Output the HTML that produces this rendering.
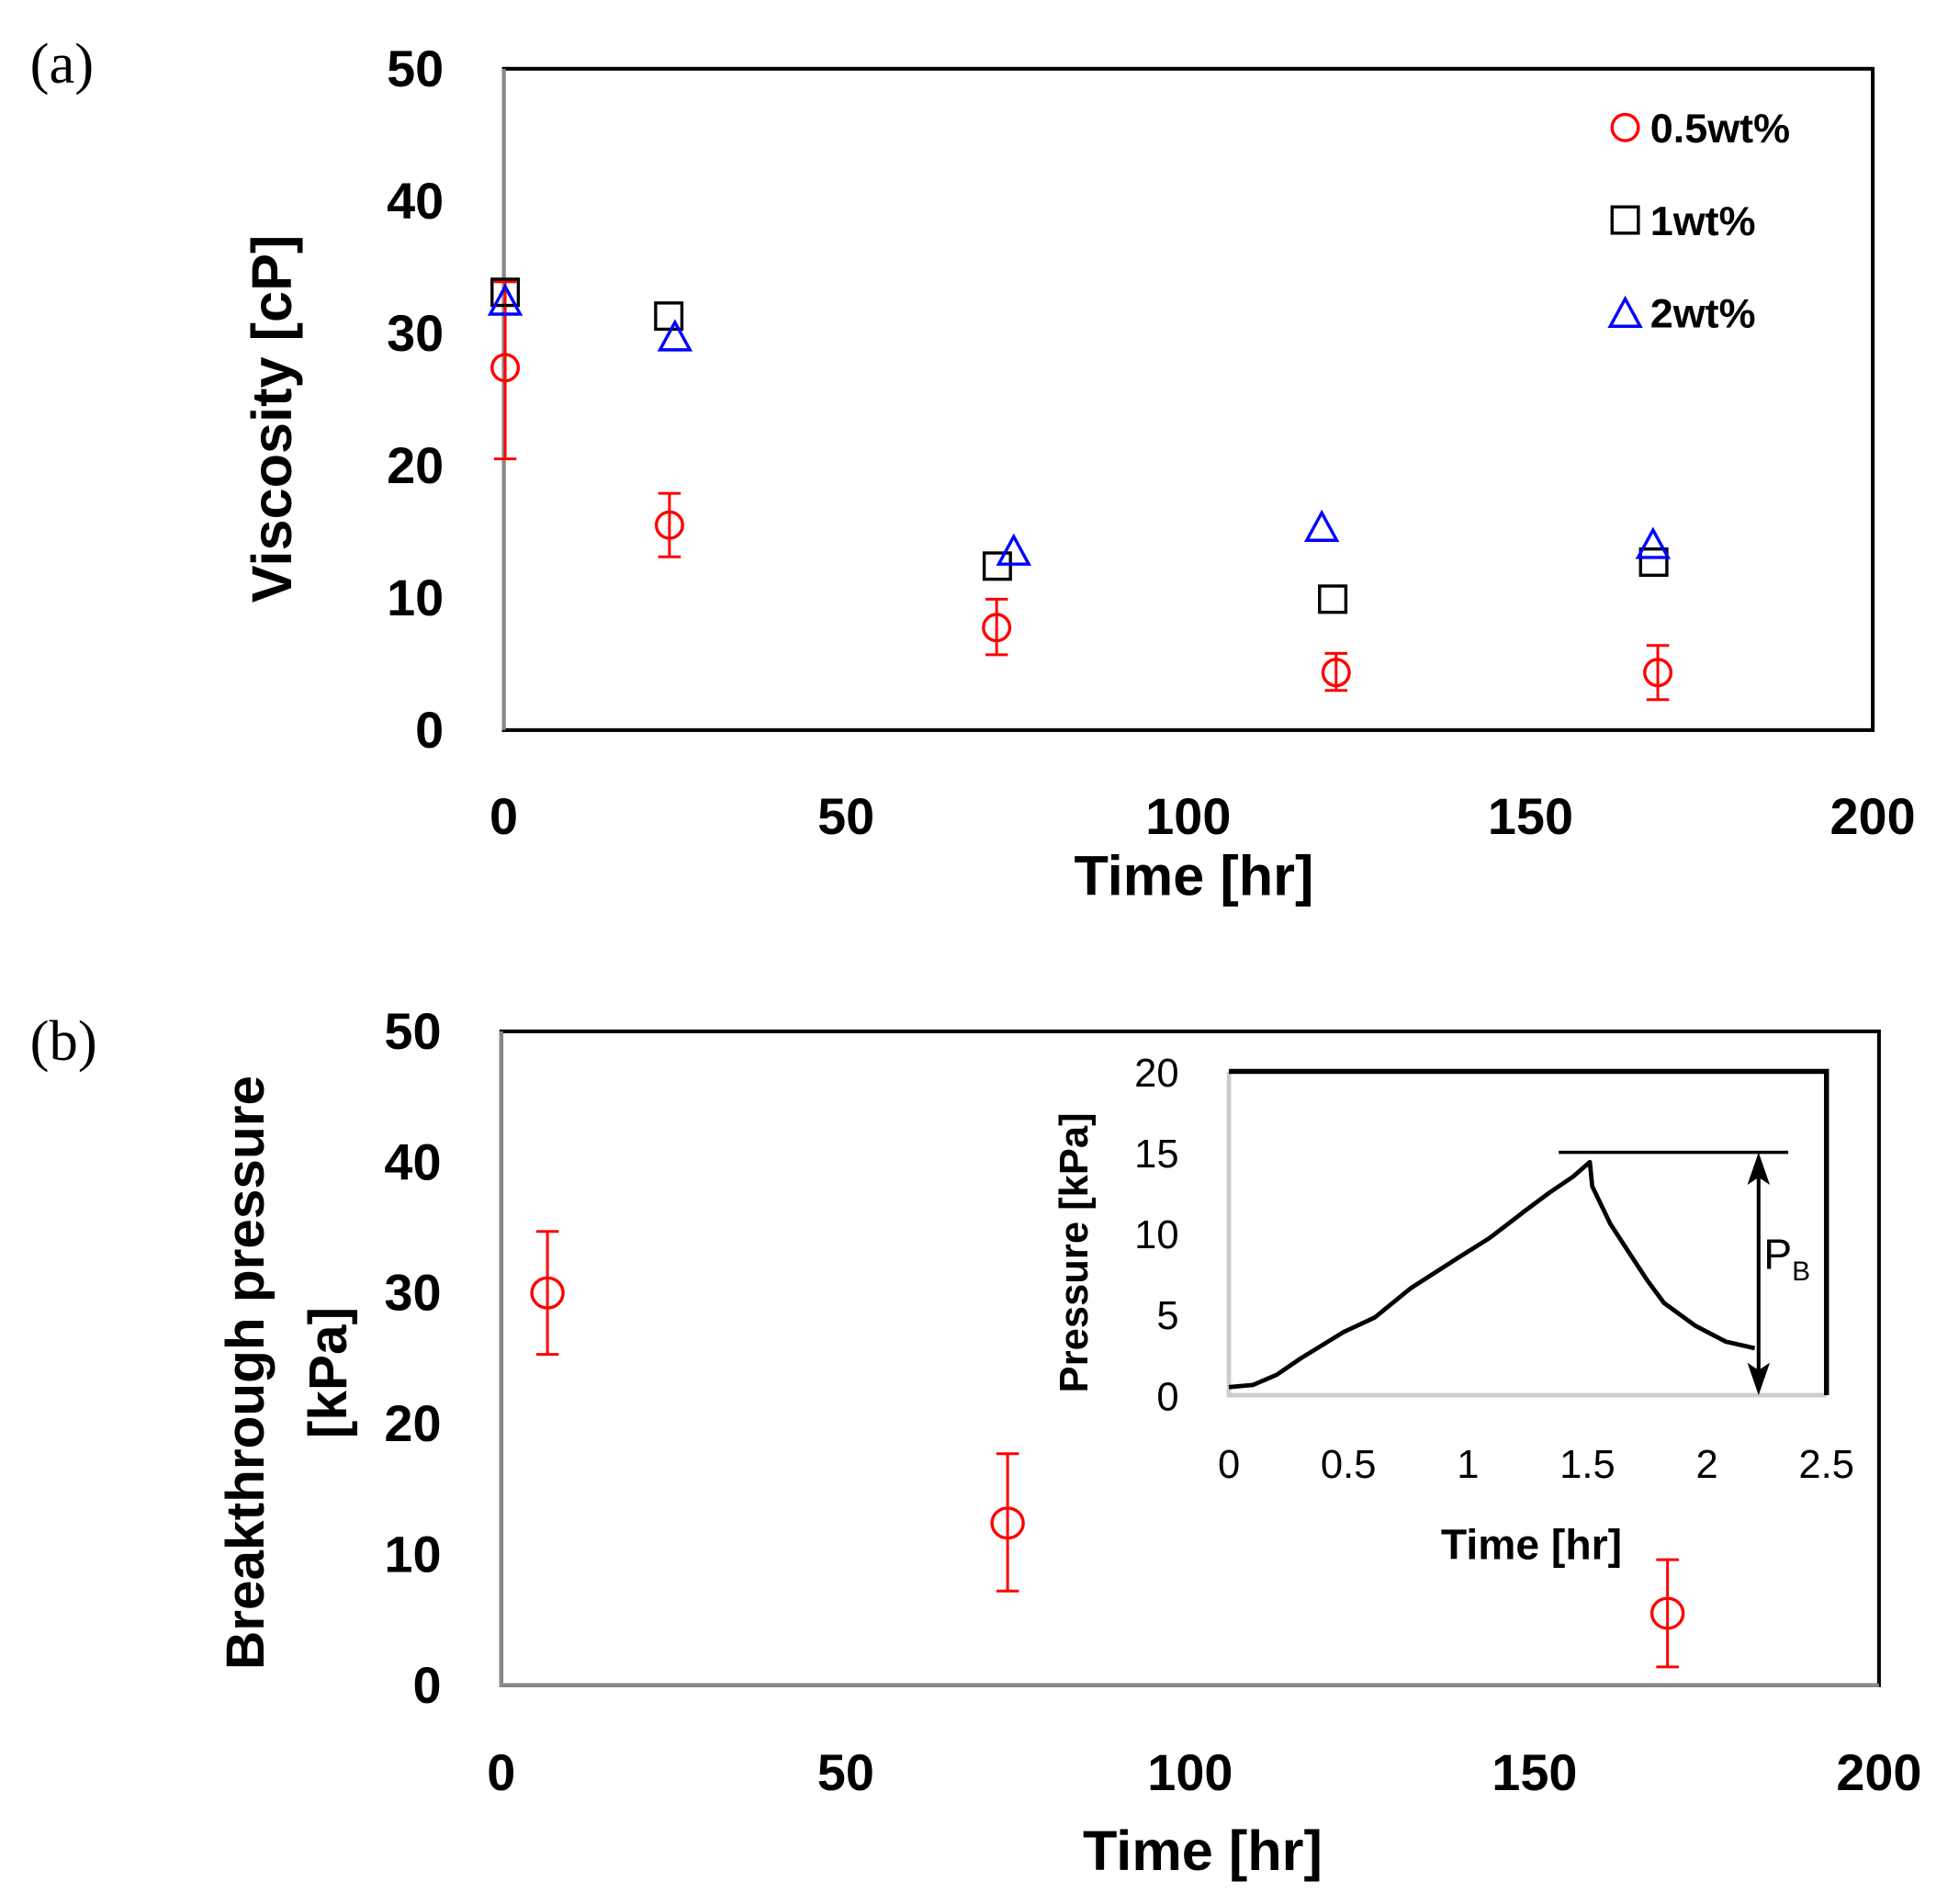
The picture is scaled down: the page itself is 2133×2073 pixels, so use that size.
<!DOCTYPE html>
<html><head><meta charset="utf-8"><style>
html,body{margin:0;padding:0;background:#fff;}
svg{display:block;}
text{font-family:"Liberation Sans",sans-serif;}
.b{font-weight:bold;}
</style></head><body>
<svg id="fig" width="2133" height="2073" viewBox="0 0 1567 1523" preserveAspectRatio="none" xmlns="http://www.w3.org/2000/svg">
<rect width="1567" height="1523" fill="#fff"/>
<g id="pa"></g>
<g id="pb"></g>
<g id="ins"></g>
</svg>
<script>
// ---- Panel (a) data ----
const aTimes05 = [0.2, 24.2, 72, 121.6, 168.6];
const aVisc05 = [27.4, 15.5, 7.75, 4.35, 4.35];
const aErrHi05 = [33.9, 17.9, 9.9, 5.8, 6.4];
const aErrLo05 = [20.5, 13.1, 5.7, 3.0, 2.3];
const aTimes1 = [0.2, 24.1, 72.1, 121.1, 168];
const aVisc1 = [33.1, 31.3, 12.4, 9.9, 12.7];
const aTimes2 = [0.2, 25, 74.5, 119.5, 167.9];
const aVisc2 = [32.3, 29.6, 13.4, 15.2, 13.9];
const yTicks = [0, 10, 20, 30, 40, 50];
const xTicks = [0, 50, 100, 150, 200];
// ---- Panel (b) data ----
const bTimes = [6.7, 73.5, 169.3];
const bPress = [30.0, 12.4, 5.5];
const bErrHi = [34.7, 17.7, 9.6];
const bErrLo = [25.3, 7.2, 1.4];
// ---- Inset data ----
const insT = [0, 0.1, 0.2, 0.3, 0.48, 0.61, 0.76, 0.96, 1.09, 1.24, 1.34, 1.44, 1.51, 1.52, 1.595, 1.67, 1.75, 1.82, 1.95, 2.08, 2.2];
const insP = [0.5, 0.63, 1.26, 2.27, 3.9, 4.8, 6.6, 8.5, 9.7, 11.4, 12.5, 13.5, 14.4, 12.9, 10.6, 8.9, 7.1, 5.7, 4.3, 3.3, 2.9];
const insYTicks = [0, 5, 10, 15, 20];
const insXTicks = ["0", "0.5", "1", "1.5", "2", "2.5"];
const insPeak = 15;
const insPeakStart = 1.38, insPeakEnd = 2.34, insArrowT = 2.216;

const NS = "http://www.w3.org/2000/svg";
function mk(parent, tag, attrs, txt) {
  const e = document.createElementNS(NS, tag);
  for (const k in attrs) e.setAttribute(k, attrs[k]);
  if (txt !== undefined) e.textContent = txt;
  parent.appendChild(e);
  return e;
}
function circ(g, x, y, c) { return mk(g, "circle", {cx:x, cy:y, r:10.5, fill:"none", stroke:c, "stroke-width":2.5}); }
function sq(g, x, y) { return mk(g, "rect", {x:x-10.5, y:y-10.5, width:21, height:21, fill:"none", stroke:"#000", "stroke-width":2.5}); }
function tri(g, x, y) { return mk(g, "polygon", {points:`${x},${y-13} ${x-12},${y+9} ${x+12},${y+9}`, fill:"none", stroke:"#00f", "stroke-width":2.5}); }
function errbar(g, x, y1, y2) {
  mk(g, "line", {x1:x, y1:y1, x2:x, y2:y2, stroke:"#f00", "stroke-width":2.2});
  mk(g, "line", {x1:x-9, y1:y1, x2:x+9, y2:y1, stroke:"#f00", "stroke-width":2.2});
  mk(g, "line", {x1:x-9, y1:y2, x2:x+9, y2:y2, stroke:"#f00", "stroke-width":2.2});
}

// ===== Panel a =====
const pa = document.getElementById("pa");
const aX = t => 403 + t * (1498 - 403) / 200;
const aY = v => 584 - v * (584 - 55) / 50;
let t = mk(pa, "text", {x:24, y:66, style:"font-family:'Liberation Serif',serif", "font-size":46}, "(a)");
 
let fr = mk(pa, "rect", {x:403, y:55, width:1095, height:529, fill:"none", stroke:"#000", "stroke-width":3});
 
let ax = mk(pa, "line", {x1:403, y1:55, x2:403, y2:584, stroke:"#888", "stroke-width":3});
 
yTicks.forEach(v => { const e = mk(pa, "text", {x:355, y:aY(v)+14, "text-anchor":"end", class:"b", "font-size":41}, String(v));
    });
xTicks.forEach(v => { const e = mk(pa, "text", {x:aX(v), y:667, "text-anchor":"middle", class:"b", "font-size":41}, String(v));
    });
t = mk(pa, "text", {x:955, y:716, "text-anchor":"middle", class:"b", "font-size":45}, "Time [hr]");
 
t = mk(pa, "text", {x:0, y:0, transform:"translate(233,335) rotate(-90)", "text-anchor":"middle", class:"b", "font-size":45}, "Viscosity [cP]");
 
aTimes05.forEach((tm, i) => errbar(pa, aX(tm), aY(aErrHi05[i]), aY(aErrLo05[i])));
aTimes1.forEach((tm, i) => { const e = sq(pa, aX(tm), aY(aVisc1[i]));
    });
aTimes2.forEach((tm, i) => { const e = tri(pa, aX(tm), aY(aVisc2[i]));
    });
aTimes05.forEach((tm, i) => { const e = circ(pa, aX(tm), aY(aVisc05[i]), "#f00");
    });
// legend
const lg = mk(pa, "g", {});
 
circ(lg, 1300, 102, "#f00");
sq(lg, 1300, 176);
tri(lg, 1300, 252);
[["0.5wt%",114],["1wt%",188],["2wt%",262]].forEach(([s,y]) => { const e = mk(lg, "text", {x:1320, y:y, class:"b", "font-size":33}, s);
    });

// ===== Panel b =====
const pb = document.getElementById("pb");
const bX = tm => 401 + tm * (1503 - 401) / 200;
const bY = v => 1348 - v * (1348 - 825) / 50;
t = mk(pb, "text", {x:24, y:848, style:"font-family:'Liberation Serif',serif", "font-size":46}, "(b)");
 
fr = mk(pb, "rect", {x:401, y:825, width:1102, height:523, fill:"none", stroke:"#000", "stroke-width":3});
 
ax = mk(pb, "polyline", {points:"401,825 401,1348 1503,1348", fill:"none", stroke:"#888", "stroke-width":3});
 
yTicks.forEach(v => { const e = mk(pb, "text", {x:353, y:bY(v)+14, "text-anchor":"end", class:"b", "font-size":41}, String(v));
    });
xTicks.forEach(v => { const e = mk(pb, "text", {x:bX(v), y:1432, "text-anchor":"middle", class:"b", "font-size":41}, String(v));
    });
t = mk(pb, "text", {x:962, y:1496, "text-anchor":"middle", class:"b", "font-size":45}, "Time [hr]");
 
t = mk(pb, "text", {x:0, y:0, transform:"translate(211,1098) rotate(-90)", "text-anchor":"middle", class:"b", "font-size":43}, "Breakthrough pressure");
 
t = mk(pb, "text", {x:0, y:0, transform:"translate(277,1098) rotate(-90)", "text-anchor":"middle", class:"b", "font-size":43}, "[kPa]");
 
bTimes.forEach((tm, i) => { errbar(pb, bX(tm), bY(bErrHi[i]), bY(bErrLo[i]));
  const e = mk(pb, "ellipse", {cx:bX(tm), cy:bY(bPress[i]), rx:12.5, ry:12, fill:"none", stroke:"#f00", "stroke-width":2.5});
    });

// ===== Inset =====
const ins = document.getElementById("ins");
const iX = tm => 983 + tm * (1461 - 983) / 2.5;
const iY = v => 1116 - v * (1116 - 857) / 20;
ax = mk(ins, "polyline", {points:"983,857 983,1116 1461,1116", fill:"none", stroke:"#ccc", "stroke-width":3.5});
 
fr = mk(ins, "polyline", {points:"983,857 1461,857 1461,1116", fill:"none", stroke:"#000", "stroke-width":4});
 
insYTicks.forEach(v => { const e = mk(ins, "text", {x:943, y:iY(v)+12, "text-anchor":"end", "font-size":32}, String(v));
    });
insXTicks.forEach(s => { const e = mk(ins, "text", {x:iX(parseFloat(s)), y:1182, "text-anchor":"middle", "font-size":32}, s);
    });
t = mk(ins, "text", {x:1225, y:1247, "text-anchor":"middle", class:"b", "font-size":34}, "Time [hr]");
 
t = mk(ins, "text", {x:0, y:0, transform:"translate(870,1002) rotate(-90)", "text-anchor":"middle", class:"b", "font-size":32}, "Pressure [kPa]");
 
const pts = insT.map((tm, i) => iX(tm) + "," + iY(insP[i])).join(" ");
let ln = mk(ins, "polyline", {points:pts, fill:"none", stroke:"#000", "stroke-width":3.5, "stroke-linejoin":"round"});
 
ln = mk(ins, "line", {x1:iX(insPeakStart), y1:iY(insPeak), x2:iX(insPeakEnd), y2:iY(insPeak), stroke:"#000", "stroke-width":2.5});
 
const axx = iX(insArrowT), ay1 = iY(insPeak), ay2 = iY(0);
const ar = mk(ins, "g", {});
 
mk(ar, "line", {x1:axx, y1:ay1+8, x2:axx, y2:ay2-8, stroke:"#000", "stroke-width":3});
mk(ar, "polygon", {points:`${axx},${ay1} ${axx-9},${ay1+26} ${axx},${ay1+20} ${axx+9},${ay1+26}`, fill:"#000"});
mk(ar, "polygon", {points:`${axx},${ay2} ${axx-9},${ay2-26} ${axx},${ay2-20} ${axx+9},${ay2-26}`, fill:"#000"});
t = mk(ins, "text", {x:axx+4, y:iY(7.8), "font-size":34}, "P");
 
mk(t, "tspan", {dy:9, "font-size":22}, "B");
</script>
</body></html>
